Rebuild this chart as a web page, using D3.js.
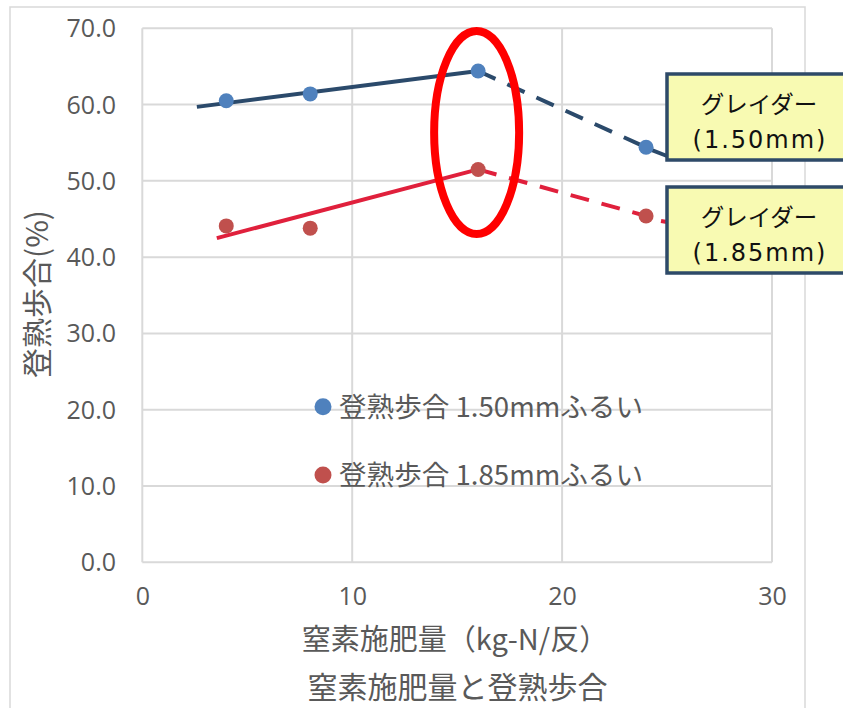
<!DOCTYPE html>
<html>
<head>
<meta charset="utf-8">
<script src="https://cdn.jsdelivr.net/npm/d3@7"></script>
<style>
  html, body { margin: 0; padding: 0; background: #fff; }
  svg { display: block; }
</style>
</head>
<body>
<svg id="chart" width="843" height="708"></svg>
<script>
// Nitrogen application (kg-N/反) and ripening ratio (%) by sieve size
const nitrogen = [4, 8, 16, 24];
const ripening150 = [60.5, 61.4, 64.4, 54.4];
const ripening185 = [44.1, 43.8, 51.5, 45.4];

// Hand-drawn trend lines: solid rising part, dashed falling part
const trendSolid150 = [[2.6, 59.7], [16, 64.4]];
const trendDashed150 = [[16, 64.4], [24, 54.4]];
const trendSolid185 = [[3.55, 42.5], [16, 51.5]];
const trendDashed185 = [[16, 51.5], [24, 45.4]];

const xTicks = [0, 10, 20, 30];
const yTicks = [0, 10, 20, 30, 40, 50, 60, 70];

const seriesNames = ["登熟歩合 1.50mmふるい", "登熟歩合 1.85mmふるい"];
const calloutLines = [["グレイダー", "(1.50mm)"], ["グレイダー", "(1.85mm)"]];
const xTitle = "窒素施肥量（kg-N/反）";
const chartTitle = "窒素施肥量と登熟歩合";
const yTitle = "登熟歩合(%)";

const colors = {
  marker150: "#4F81BD", marker185: "#C0504D",
  line150: "#2B4A6B", line185: "#E0203C",
  grid: "#D9D9D9", text: "#595959"
};

const svg = d3.select("#chart");
const x = d3.scaleLinear().domain([0, 30]).range([142.3, 772]);
const y = d3.scaleLinear().domain([0, 70]).range([562.3, 28.3]);

const cjk = "'Noto Sans CJK JP', 'Noto Sans', sans-serif";
const latin = "'Open Sans', 'Noto Sans', sans-serif";
const wide = "'DejaVu Sans', 'Noto Sans CJK JP', sans-serif";

// outer chart frame
svg.append("rect")
  .attr("x", 10).attr("y", 7).attr("width", 795).attr("height", 720)
  .attr("fill", "none").attr("stroke", colors.grid).attr("stroke-width", 1.5);

// gridlines
const grid = svg.append("g");
grid.selectAll("line.h").data(yTicks).join("line")
  .attr("x1", x(0)).attr("x2", x(30))
  .attr("y1", d => y(d)).attr("y2", d => y(d))
  .attr("stroke", colors.grid).attr("stroke-width", 2);
grid.selectAll("line.v").data(xTicks).join("line")
  .attr("y1", y(0)).attr("y2", y(70))
  .attr("x1", d => x(d)).attr("x2", d => x(d))
  .attr("stroke", colors.grid).attr("stroke-width", 2);

// axes (labels only; gridlines act as axis lines)
const yAxis = d3.axisLeft(y).tickValues(yTicks).tickFormat(d3.format(".1f")).tickSize(0).tickPadding(0);
const gy = svg.append("g").attr("transform", "translate(116,0)").call(yAxis);
gy.select(".domain").remove();
gy.selectAll("text").attr("font-family", latin).attr("font-size", 25)
  .attr("fill", colors.text).attr("dy", "0.34em");

const xAxis = d3.axisBottom(x).tickValues(xTicks).tickFormat(d3.format("d")).tickSize(0).tickPadding(0);
const gx = svg.append("g").attr("transform", "translate(0,590)").call(xAxis);
gx.select(".domain").remove();
gx.selectAll("text").attr("font-family", latin).attr("font-size", 25)
  .attr("fill", colors.text).attr("dy", "0.6em");

// trend lines
const line = d3.line().x(d => x(d[0])).y(d => y(d[1]));
svg.append("path").attr("d", line(trendSolid150)).attr("fill", "none")
  .attr("stroke", colors.line150).attr("stroke-width", 4);
svg.append("path").attr("d", line(trendDashed150)).attr("fill", "none")
  .attr("stroke", colors.line150).attr("stroke-width", 4).attr("stroke-dasharray", "19,13");
svg.append("path").attr("d", line(trendSolid185)).attr("fill", "none")
  .attr("stroke", colors.line185).attr("stroke-width", 4);
svg.append("path").attr("d", line(trendDashed185)).attr("fill", "none")
  .attr("stroke", colors.line185).attr("stroke-width", 4).attr("stroke-dasharray", "19,13");

// leader lines from last points to the callouts
svg.append("line").attr("x1", x(24) + 4).attr("y1", y(54.4) + 2).attr("x2", 667).attr("y2", 156)
  .attr("stroke", colors.line150).attr("stroke-width", 4);
svg.append("line").attr("x1", 661).attr("y1", y(45.4) + 5).attr("x2", 667).attr("y2", y(45.4) + 6)
  .attr("stroke", colors.line185).attr("stroke-width", 4);

// markers
const pts = nitrogen.map((n, i) => ({ n, a: ripening150[i], b: ripening185[i] }));
svg.append("g").selectAll("circle").data(pts).join("circle")
  .attr("cx", d => x(d.n)).attr("cy", d => y(d.a)).attr("r", 7.5).attr("fill", colors.marker150);
svg.append("g").selectAll("circle").data(pts).join("circle")
  .attr("cx", d => x(d.n)).attr("cy", d => y(d.b)).attr("r", 7.5).attr("fill", colors.marker185);

// highlight ellipse around the peak at 16 kg-N
svg.append("ellipse")
  .attr("cx", x(16) - 1.5).attr("cy", 132.5).attr("rx", 42.5).attr("ry", 101.5)
  .attr("fill", "none").attr("stroke", "#FF0000").attr("stroke-width", 8);

// callout boxes
const boxes = [{ top: 74, bottom: 160, lines: calloutLines[0] }, { top: 187, bottom: 273, lines: calloutLines[1] }];
boxes.forEach(b => {
  const g = svg.append("g");
  g.append("rect").attr("x", 667).attr("y", b.top).attr("width", 190).attr("height", b.bottom - b.top)
    .attr("fill", "#F8FAB2").attr("stroke", "#2E4A68").attr("stroke-width", 3.5);
  g.append("text")
    .attr("x", 759).attr("y", b.top + 31).attr("dy", "0.35em")
    .attr("text-anchor", "middle")
    .attr("font-family", cjk).attr("font-size", 23.5)
    .attr("fill", "#111")
    .text(b.lines[0]);
  g.append("text")
    .attr("x", 760).attr("y", b.top + 66).attr("dy", "0.35em")
    .attr("text-anchor", "middle")
    .attr("font-family", wide).attr("font-size", 24)
    .attr("letter-spacing", 2)
    .attr("fill", "#111")
    .text(b.lines[1]);
});

// legend
const legend = svg.append("g");
[colors.marker150, colors.marker185].forEach((c, i) => {
  const ly = 406.7 + i * 68.3;
  legend.append("circle").attr("cx", 323).attr("cy", ly).attr("r", 8.5).attr("fill", c);
  legend.append("text").attr("x", 339).attr("y", ly).attr("dy", "0.36em")
    .attr("font-family", cjk).attr("font-size", 27.6).attr("fill", colors.text)
    .text(seriesNames[i]);
});

// axis titles
svg.append("text").attr("x", 455).attr("y", 640).attr("dy", "0.36em")
  .attr("text-anchor", "middle").attr("font-family", cjk).attr("font-size", 29)
  .attr("fill", colors.text).text(xTitle);
svg.append("text").attr("x", 457.5).attr("y", 687).attr("dy", "0.36em")
  .attr("text-anchor", "middle").attr("font-family", cjk).attr("font-size", 30)
  .attr("fill", colors.text).text(chartTitle);
svg.append("text")
  .attr("transform", "translate(37,294) rotate(-90)")
  .attr("dy", "0.36em")
  .attr("text-anchor", "middle").attr("font-family", cjk).attr("font-size", 30)
  .attr("fill", colors.text).text(yTitle);
</script>
</body>
</html>
